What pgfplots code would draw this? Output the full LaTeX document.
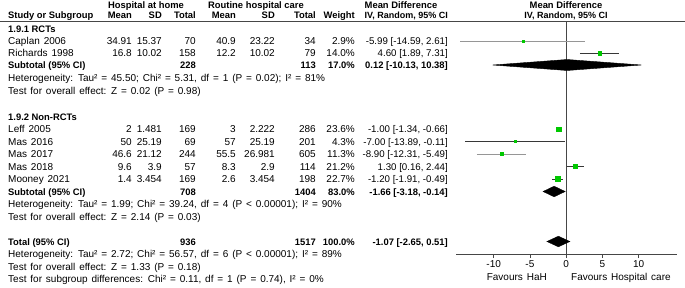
\documentclass[border=0pt]{standalone}
\usepackage{pgfplots}
\pgfplotsset{compat=1.18}
\usepackage{fontspec}
\setmainfont{Liberation Sans}[WordSpace=1.4]
\newfontfamily\hb{Liberation Sans}
\definecolor{sqgreen}{RGB}{0,200,0}
\definecolor{cigray}{RGB}{150,150,150}
\definecolor{cidark}{RGB}{55,55,55}
\definecolor{axgray}{RGB}{70,70,70}
\newcommand{\fs}{\fontsize{10}{11}\selectfont}
\newcommand{\fb}{\hb\bfseries\fontsize{9.4}{11}\selectfont}
\newcommand{\ci}{\hb\fontsize{9.7}{11}\selectfont}
\newcommand{\rowA}[5]{%
 \node[anchor=base west] at (8,#1+3.5) {#2};
 \node[anchor=base east] at (132,#1+3.5) {#3};
 \node[anchor=base east] at (162,#1+3.5) {#4};
 \node[anchor=base east] at (196,#1+3.5) {#5};}
\newcommand{\rowB}[6]{%
 \node[anchor=base east] at (236,#1+3.5) {#2};
 \node[anchor=base east] at (275,#1+3.5) {#3};
 \node[anchor=base east] at (316,#1+3.5) {#4};
 \node[anchor=base east] at (355,#1+3.5) {#5};
 \node[anchor=base east] at (448,#1+3.5) {#6};}
\newcommand{\LL}[2]{\node[anchor=base west] at (8,#1+3.5) {#2};}
\begin{document}
\begin{tikzpicture}
\path[use as bounding box] (0,0) rectangle (685pt,-287pt);
\begin{axis}[at={(456pt,-254pt)}, anchor=south west, scale only axis,
  width=221pt, height=233pt, xmin=-15.2, xmax=15.3, ymin=-254, ymax=-21,
  axis x line=bottom, axis y line=none,
  x axis line style={-, color=axgray, line width=0.8pt},
  xtick={-10,-5,0,5,10}, xticklabels={-10,-5,0,5,10},
  tick align=outside, major tick length=4pt,
  xtick style={color=axgray, line width=0.8pt},
  xticklabel style={font=\fs, inner sep=0pt, yshift=-2pt},
  ytick=\empty, clip=false]
\addplot[axgray, line width=0.8pt] coordinates {(0,-21) (0,-254)};
% RCTs
\addplot[cigray, line width=1pt] coordinates {(-14.59,-41) (2.61,-41)};
\addplot[only marks, mark=square*, mark size=1.0pt, color=sqgreen] coordinates {(-5.99,-41)};
\addplot[cidark, line width=1pt] coordinates {(1.89,-53) (7.31,-53)};
\addplot[only marks, mark=square*, mark size=1.7pt, color=sqgreen] coordinates {(4.60,-53)};
\addplot[fill=black, draw=black] coordinates {(-10.13,-65) (0.12,-59.5) (10.38,-65) (0.12,-70.5)} -- cycle;
% Non-RCTs
\addplot[cidark, line width=1pt] coordinates {(-1.34,-129) (-0.66,-129)};
\addplot[only marks, mark=square*, mark size=2.3pt, color=sqgreen] coordinates {(-1.00,-129)};
\addplot[cidark, line width=1pt] coordinates {(-13.89,-141.5) (-0.11,-141.5)};
\addplot[only marks, mark=square*, mark size=1.1pt, color=sqgreen] coordinates {(-7.00,-141.5)};
\addplot[cigray, line width=1pt] coordinates {(-12.31,-154) (-5.49,-154)};
\addplot[only marks, mark=square*, mark size=1.6pt, color=sqgreen] coordinates {(-8.90,-154)};
\addplot[cidark, line width=1pt] coordinates {(0.16,-166.5) (2.44,-166.5)};
\addplot[only marks, mark=square*, mark size=2.1pt, color=sqgreen] coordinates {(1.30,-166.5)};
\addplot[cidark, line width=1pt] coordinates {(-1.91,-179) (-0.49,-179)};
\addplot[only marks, mark=square*, mark size=2.5pt, color=sqgreen] coordinates {(-1.20,-179)};
\addplot[fill=black, draw=black] coordinates {(-3.18,-191.5) (-1.66,-186.2) (-0.14,-191.5) (-1.66,-196.8)} -- cycle;
% Total
\addplot[fill=black, draw=black] coordinates {(-2.65,-241.5) (-1.07,-236.2) (0.51,-241.5) (-1.07,-246.8)} -- cycle;
\end{axis}
\begin{scope}[x=1pt, y=-1pt, every node/.style={font=\fs, inner sep=0pt}]
\draw[axgray, line width=0.8pt] (0,21) -- (685,21);
\begin{scope}[every node/.style={font=\fb, inner sep=0pt}]
\node[anchor=base] at (146,8.5) {Hospital at home};
\node[anchor=base] at (256,8.5) {Routine hospital care};
\node[anchor=base] at (401,8.5) {Mean Difference};
\node[anchor=base] at (566,8.5) {Mean Difference};
\node[anchor=base west] at (8,18.5) {Study or Subgroup};
\rowA{15}{}{Mean}{SD}{Total}
\rowB{15}{Mean}{SD}{Total}{Weight}{\fontsize{9}{11}\selectfont IV, Random, 95\% CI}
\node[anchor=base, font=\hb\bfseries\fontsize{9}{11}\selectfont] at (566,18.5) {IV, Random, 95\% CI};
\LL{29}{1.9.1 RCTs}
\end{scope}
\rowA{41}{Caplan 2006}{34.91}{15.37}{70}
\rowB{41}{40.9}{23.22}{34}{2.9\%}{\ci -5.99 [-14.59, 2.61]}
\rowA{53}{Richards 1998}{16.8}{10.02}{158}
\rowB{53}{12.2}{10.02}{79}{14.0\%}{\ci 4.60 [1.89, 7.31]}
\begin{scope}[every node/.style={font=\fb, inner sep=0pt}]
\rowA{65}{Subtotal (95\% CI)}{}{}{228}
\rowB{65}{}{}{113}{17.0\%}{0.12 [-10.13, 10.38]}
\end{scope}
\LL{78}{Heterogeneity: Tau² = 45.50; Chi² = 5.31, df = 1 (P = 0.02); I² = 81\%}
\LL{90.5}{Test for overall effect: Z = 0.02 (P = 0.98)}
\begin{scope}[every node/.style={font=\fb, inner sep=0pt}]
\LL{116.5}{1.9.2 Non-RCTs}
\end{scope}
\rowA{129}{Leff 2005}{2}{1.481}{169}
\rowB{129}{3}{2.222}{286}{23.6\%}{\ci -1.00 [-1.34, -0.66]}
\rowA{141.5}{Mas 2016}{50}{25.19}{69}
\rowB{141.5}{57}{25.19}{201}{4.3\%}{\ci -7.00 [-13.89, -0.11]}
\rowA{154}{Mas 2017}{46.6}{21.12}{244}
\rowB{154}{55.5}{26.981}{605}{11.3\%}{\ci -8.90 [-12.31, -5.49]}
\rowA{166.5}{Mas 2018}{9.6}{3.9}{57}
\rowB{166.5}{8.3}{2.9}{114}{21.2\%}{\ci 1.30 [0.16, 2.44]}
\rowA{179}{Mooney 2021}{1.4}{3.454}{169}
\rowB{179}{2.6}{3.454}{198}{22.7\%}{\ci -1.20 [-1.91, -0.49]}
\begin{scope}[every node/.style={font=\fb, inner sep=0pt}]
\rowA{191.5}{Subtotal (95\% CI)}{}{}{708}
\rowB{191.5}{}{}{1404}{83.0\%}{-1.66 [-3.18, -0.14]}
\end{scope}
\LL{204}{Heterogeneity: Tau² = 1.99; Chi² = 39.24, df = 4 (P < 0.00001); I² = 90\%}
\LL{216.5}{Test for overall effect: Z = 2.14 (P = 0.03)}
\begin{scope}[every node/.style={font=\fb, inner sep=0pt}]
\rowA{241.5}{Total (95\% CI)}{}{}{936}
\rowB{241.5}{}{}{1517}{100.0\%}{-1.07 [-2.65, 0.51]}
\end{scope}
\LL{254}{Heterogeneity: Tau² = 2.72; Chi² = 56.57, df = 6 (P < 0.00001); I² = 89\%}
\LL{266.5}{Test for overall effect: Z = 1.33 (P = 0.18)}
\LL{279}{Test for subgroup differences: Chi² = 0.11, df = 1 (P = 0.74), I² = 0\%}
\node[anchor=base east] at (547,280.5) {Favours HaH};
\node[anchor=base west] at (571,280.5) {Favours Hospital care};
\end{scope}
\end{tikzpicture}
\end{document}
